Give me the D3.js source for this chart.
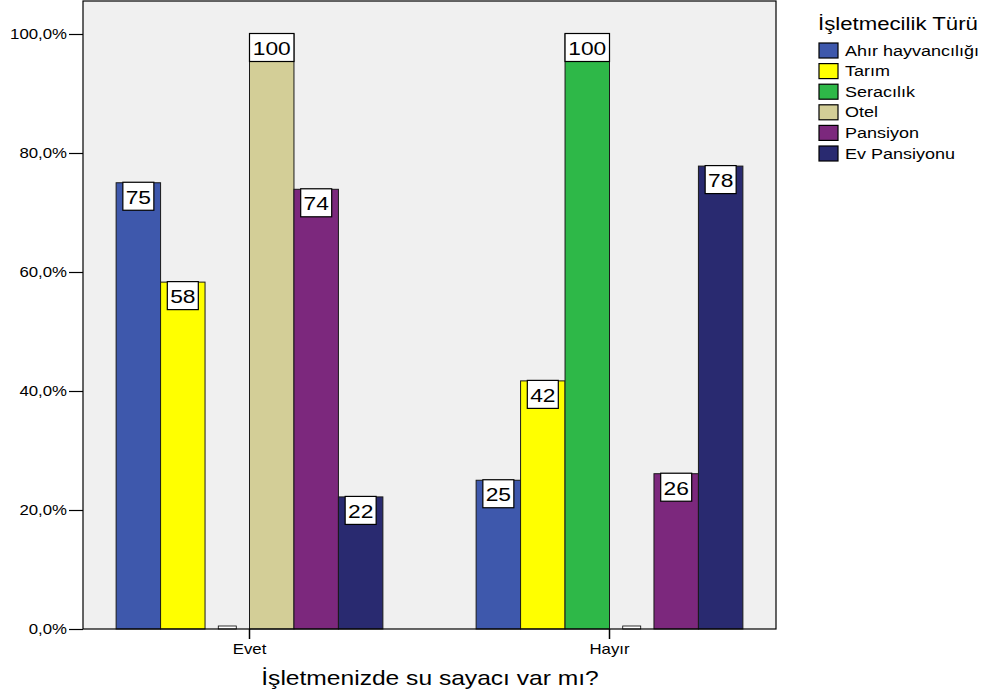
<!DOCTYPE html>
<html><head><meta charset="utf-8">
<script src="https://cdn.jsdelivr.net/npm/d3@7"></script>
<style>body{margin:0;background:#fff;} svg{display:block;font-family:"Liberation Sans",Arial,sans-serif;}</style>
</head><body><svg id="c" width="985" height="693"></svg>
<script>
const categories = ["Evet", "Hayır"];
const seriesNames = ["Ahır hayvancılığı", "Tarım", "Seracılık", "Otel", "Pansiyon", "Ev Pansiyonu"];
const evetValues = [75.0, 58.3, 0, 100, 73.9, 22.2];
const hayirValues = [25.0, 41.7, 100, 0, 26.1, 77.8];
const yTicks = [0, 20, 40, 60, 80, 100];
const colors = ["#3e58ac", "#ffff00", "#2eb848", "#d3ce97", "#7c287d", "#292a70"];
const legendTitle = "İşletmecilik Türü";
const xTitle = "İşletmenizde su sayacı var mı?";

const data = categories.map((c, i) => ({cat: c, vals: (i === 0 ? evetValues : hayirValues)}));
const K = 1.2; // horizontal text stretch

const svg = d3.select("#c");
const L = 83, R = 776, T = 1, B = 629;

function stext(parent, x, y, str, size, anchor) {
  return parent.append("text").attr("transform", `translate(${x},${y}) scale(${K},1)`)
    .attr("text-anchor", anchor || "start").attr("font-size", size).attr("fill", "#000").text(str);
}

const y = d3.scaleLinear().domain([0, 100]).range([B, 34]);
const x0 = d3.scaleBand().domain(categories).range([L, R]).paddingInner(0.259).paddingOuter(0.092);
const x1 = d3.scaleBand().domain(seriesNames).range([0, x0.bandwidth()]);
const color = d3.scaleOrdinal().domain(seriesNames).range(colors);

svg.append("rect").attr("x", L).attr("y", T).attr("width", R - L).attr("height", B - T)
  .attr("fill", "#f0f0f0");

const g = svg.append("g");
data.forEach(d => {
  const gg = g.append("g").attr("transform", `translate(${x0(d.cat)},0)`);
  d.vals.forEach((v, j) => {
    const name = seriesNames[j];
    const bx = x1(name), bw = x1.bandwidth();
    if (v > 0) {
      gg.append("rect").attr("x", bx).attr("y", y(v)).attr("width", bw).attr("height", y(0) - y(v))
        .attr("fill", color(name)).attr("stroke", "#1a1a1a").attr("stroke-width", 1);
      const lab = String(Math.round(v));
      const w = lab.length >= 3 ? bw : 31;
      gg.append("rect").attr("x", bx + bw / 2 - w / 2).attr("y", y(v) - 0.5).attr("width", w).attr("height", 28)
        .attr("fill", "#fff").attr("stroke", "#000").attr("stroke-width", 1.2);
      stext(gg, bx + bw / 2, y(v) + 21, lab, 19, "middle");
    } else {
      gg.append("rect").attr("x", bx + bw / 2 - 9).attr("y", y(0) - 3).attr("width", 18).attr("height", 3)
        .attr("fill", "#fff").attr("stroke", "#000").attr("stroke-width", 0.8);
    }
  });
});

svg.append("rect").attr("x", L).attr("y", T).attr("width", R - L).attr("height", B - T)
  .attr("fill", "none").attr("stroke", "#000").attr("stroke-width", 1.2);

function stretchAxisText(sel) {
  sel.selectAll("text").each(function () {
    const t = d3.select(this);
    const x = +t.attr("x") || 0, yy = +t.attr("y") || 0;
    t.attr("x", 0).attr("y", 0).attr("transform", `translate(${x},${yy}) scale(${K},1)`);
  });
}

// y axis
const ya = svg.append("g").attr("transform", `translate(${L},0)`)
  .call(d3.axisLeft(y).tickValues(yTicks).tickSize(14).tickPadding(2)
    .tickFormat(d => d3.format(".1f")(d).replace(".", ",") + "%"));
ya.select(".domain").remove();
ya.selectAll("line").attr("stroke", "#000").attr("stroke-width", 1.2);
ya.selectAll("text").attr("font-size", 14).attr("fill", "#000").attr("font-family", "Liberation Sans, Arial, sans-serif");
stretchAxisText(ya);

// x axis
const xa = svg.append("g").attr("transform", `translate(0,${B})`)
  .call(d3.axisBottom(x0).tickSize(10).tickPadding(5));
xa.select(".domain").remove();
xa.selectAll("line").attr("stroke", "#000").attr("stroke-width", 1.5);
xa.selectAll("text").attr("font-size", 14).attr("fill", "#000").attr("font-family", "Liberation Sans, Arial, sans-serif");
stretchAxisText(xa);

stext(svg, 430, 685, xTitle, 20.5, "middle");

// legend
const lg = svg.append("g");
stext(lg, 818, 30, legendTitle, 18.5, "start");
seriesNames.forEach((n, i) => {
  const yy = 43 + i * 20.6;
  lg.append("rect").attr("x", 819).attr("y", yy).attr("width", 19).attr("height", 15)
    .attr("fill", color(n)).attr("stroke", "#000").attr("stroke-width", 1.2);
  stext(lg, 845, yy + 12.5, n, 15, "start");
});
</script></body></html>
